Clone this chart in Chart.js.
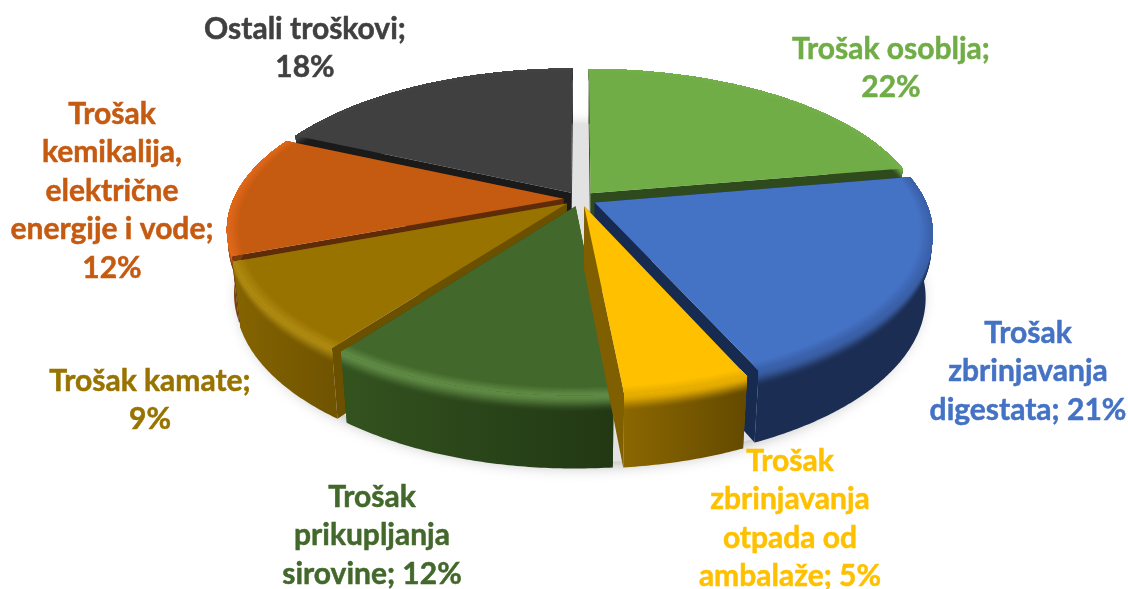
<!DOCTYPE html>
<html>
<head>
<meta charset="utf-8">
<title>Struktura troškova</title>
<script src="https://cdn.jsdelivr.net/npm/chart.js@4/dist/chart.umd.min.js"></script>
<style>
  html, body { margin: 0; padding: 0; background: #fff; }
  #wrap { width: 1128px; height: 589px; }
</style>
</head>
<body>
<div id="wrap"><canvas id="pie" width="1128" height="589"></canvas></div>
<script>
const categories = ['Trošak osoblja', 'Trošak zbrinjavanja digestata', 'Trošak zbrinjavanja otpada od ambalaže',
    'Trošak prikupljanja sirovine', 'Trošak kamate', 'Trošak kemikalija, električne energije i vode', 'Ostali troškovi'];
// labels are rounded, the slice sizes in the picture are a bit finer
const shares = [22, 21, 5, 11.5, 9, 12.5, 18];

const labelLines = [
    ['Trošak osoblja;', '22%'],
    ['Trošak', 'zbrinjavanja', 'digestata; 21%'],
    ['Trošak', 'zbrinjavanja', 'otpada od', 'ambalaže; 5%'],
    ['Trošak', 'prikupljanja', 'sirovine; 12%'],
    ['Trošak kamate;', '9%'],
    ['Trošak', 'kemikalija,', 'električne', 'energije i vode;', '12%'],
    ['Ostali troškovi;', '18%']
];
// centre x, first line y
const labelX = [891, 1028, 790, 372, 150, 112, 305];
const labelY = [49, 333, 461, 497, 381, 114, 29];
const LINE_HEIGHT = 38.5;

const faceColors = ['#70ad47', '#4472c4', '#ffc000', '#43682b', '#997300', '#c55a11', '#404040'];
const rimColors = ['#74b04b', '#3a60a8', '#e6ad00', '#5f8a45', '#ae8a12', '#e0681a', '#444444'];
const wallLeft = ['#2f4a1c', '#1b2d52', '#8b6700', '#33531f', '#856400', '#7b3b0c', '#1a1a1a'];
const wallRight = ['#2f4a1c', '#1b2d52', '#644a00', '#223814', '#705400', '#7b3b0c', '#1a1a1a'];
const cutColors = ['#2f4a1c', '#172a50', '#7f5f00', '#2a4518', '#6b5000', '#5e2c08', '#1a1a1a'];

// perspective view of the unit circle
const CX = 580, CY = 199, RX = 330, RY = 150, DEPTH = 64;
const PERSP = 0.19, PERSP_DOWN = 0.02, EXPLODE = 0.05;

function project(u, v, d) {
    const w = 1 - PERSP * v + PERSP_DOWN * d;
    return [CX + RX * u / w, CY + (RY * v + DEPTH * d) / w];
}

function hexToRgb(hex) {
    const n = parseInt(hex.slice(1), 16);
    return [(n >> 16) & 255, (n >> 8) & 255, n & 255];
}

function mix(a, b, t) {
    const ca = hexToRgb(a), cb = hexToRgb(b);
    const c = ca.map((v, i) => Math.round(v + (cb[i] - v) * t));
    return `rgb(${c[0]},${c[1]},${c[2]})`;
}

// points along the outer edge of a slice at radius r and depth d
function arcPoints(el, ox, oy, r, d) {
    const pts = [];
    const n = Math.max(4, Math.ceil((el.endAngle - el.startAngle) / 0.01));
    for (let i = 0; i <= n; i++) {
        const a = el.startAngle + (el.endAngle - el.startAngle) * i / n;
        pts.push(project(ox + r * Math.cos(a), oy + r * Math.sin(a), d));
    }
    return pts;
}

function fillPoly(ctx, pts, style) {
    ctx.beginPath();
    pts.forEach((p, i) => i ? ctx.lineTo(p[0], p[1]) : ctx.moveTo(p[0], p[1]));
    ctx.closePath();
    ctx.fillStyle = style;
    ctx.fill();
}

function drawSlice(ctx, el, i) {
    const mid = (el.startAngle + el.endAngle) / 2;
    const ox = EXPLODE * Math.cos(mid), oy = EXPLODE * Math.sin(mid);
    const top = arcPoints(el, ox, oy, 1, 0);
    const bottom = arcPoints(el, ox, oy, 1, 1);
    const apexTop = project(ox, oy, 0), apexBottom = project(ox, oy, 1);

    // cut faces
    fillPoly(ctx, [apexTop, top[0], bottom[0], apexBottom], cutColors[i]);
    fillPoly(ctx, [apexTop, top[top.length - 1], bottom[bottom.length - 1], apexBottom], cutColors[i]);

    // outer wall
    const xs = top.map(p => p[0]);
    const x0 = Math.min(...xs), x1 = Math.max(...xs);
    const grad = ctx.createLinearGradient(x0, 0, x1, 0);
    grad.addColorStop(0, wallLeft[i]);
    grad.addColorStop(1, wallRight[i]);
    fillPoly(ctx, top.concat(bottom.slice().reverse()), grad);

    // bevel where the wall meets the top: rim colour fading into the wall
    const steps = 14, bevel = 0.22;
    for (let s = steps - 1; s >= 0; s--) {
        const t = s / steps;
        const upper = arcPoints(el, ox, oy, 1, 0);
        const lower = arcPoints(el, ox, oy, 1, bevel * (s + 1) / steps);
        const g = ctx.createLinearGradient(x0, 0, x1, 0);
        g.addColorStop(0, mix(rimColors[i], wallLeft[i], t * t * (3 - 2 * t)));
        g.addColorStop(1, mix(rimColors[i], wallRight[i], t * t * (3 - 2 * t)));
        fillPoly(ctx, upper.concat(lower.reverse()), g);
    }

    // top face
    fillPoly(ctx, [apexTop].concat(top), faceColors[i]);

    // soft rim just inside the edge, face colour going over to the rim colour
    const rimSteps = 8, rimWidth = 0.035;
    for (let s = 0; s < rimSteps; s++) {
        const t = (s + 1) / rimSteps;
        const inner = arcPoints(el, ox, oy, 1 - rimWidth * (1 - s / rimSteps), 0);
        fillPoly(ctx, top.concat(inner.reverse()), mix(faceColors[i], rimColors[i], t));
    }
}

const pie3d = {
    id: 'pie3d',
    beforeDatasetDraw(chart, args) {
        const ctx = chart.ctx;
        const arcs = args.meta.data;

        // ground shadow
        ctx.save();
        ctx.shadowColor = 'rgba(0,0,0,0.3)';
        ctx.shadowBlur = 16;
        ctx.shadowOffsetY = 3;
        const rim = [];
        for (let a = 0; a < Math.PI * 2; a += 0.02) {
            rim.push(project(1.03 * Math.cos(a), 1.03 * Math.sin(a), 0.98));
        }
        fillPoly(ctx, rim, '#e2e2e2');
        ctx.restore();

        // back slices first
        const order = arcs.map((el, i) => i).sort((a, b) => {
            const ma = (arcs[a].startAngle + arcs[a].endAngle) / 2;
            const mb = (arcs[b].startAngle + arcs[b].endAngle) / 2;
            return Math.sin(ma) - Math.sin(mb);
        });
        order.forEach(i => drawSlice(ctx, arcs[i], i));
        return false;
    },
    afterDatasetsDraw(chart) {
        const ctx = chart.ctx;
        ctx.save();
        ctx.font = 'bold 30px Lato';
        ctx.textAlign = 'center';
        ctx.textBaseline = 'middle';
        ctx.lineWidth = 0.5;
        labelLines.forEach((lines, i) => {
            ctx.fillStyle = faceColors[i];
            ctx.strokeStyle = faceColors[i];
            lines.forEach((line, j) => {
                ctx.fillText(line, labelX[i], labelY[i] + j * LINE_HEIGHT);
                ctx.strokeText(line, labelX[i], labelY[i] + j * LINE_HEIGHT);
            });
        });
        ctx.restore();
    }
};

new Chart(document.getElementById('pie'), {
    type: 'pie',
    data: {
        labels: categories,
        datasets: [{ data: shares, backgroundColor: faceColors, borderWidth: 0 }]
    },
    options: {
        responsive: false,
        animation: false,
        plugins: { legend: { display: false }, tooltip: { enabled: false } }
    },
    plugins: [pie3d]
});
</script>
</body>
</html>
